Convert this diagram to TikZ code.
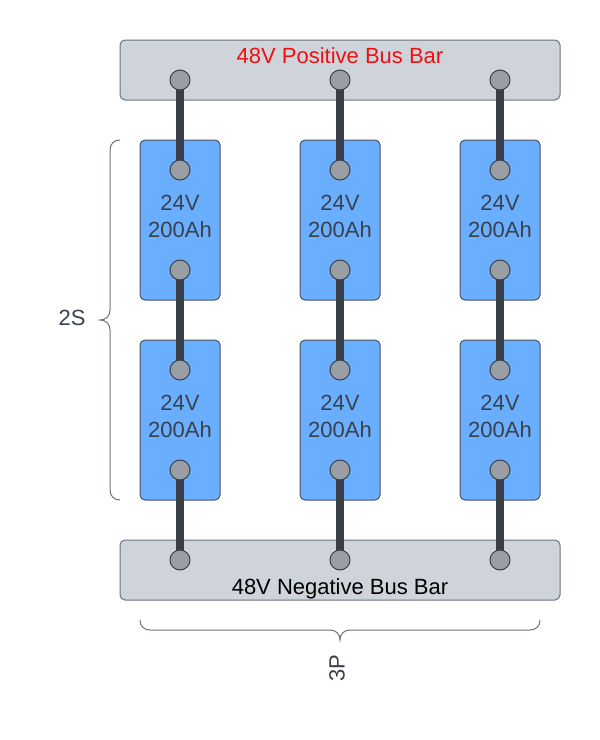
\documentclass[tikz,border=0pt]{standalone}
\usepackage{fontspec}
\setmainfont{Liberation Sans}
\pgfdeclarelayer{bodies}
\pgfdeclarelayer{wires}
\pgfsetlayers{bodies,wires,main}
\definecolor{busfill}{HTML}{CFD4DB}
\definecolor{busline}{HTML}{6B7280}
\definecolor{batfill}{HTML}{6AAFFF}
\definecolor{batline}{HTML}{4B5260}
\definecolor{wirec}{HTML}{3A3F48}
\definecolor{termfill}{HTML}{9A9EA5}
\definecolor{txtgray}{HTML}{3A414C}
\definecolor{posred}{HTML}{EE1111}
\begin{document}
\begin{tikzpicture}[x=1pt,y=-1pt,
  busbar/.style={draw=busline,fill=busfill,line width=1pt,rounded corners=5pt,
    minimum width=440pt,minimum height=60pt,inner sep=0pt,rectangle},
  battery/.style={draw=batline,fill=batfill,line width=1pt,rounded corners=5pt,
    minimum width=80pt,minimum height=160pt,inner sep=0pt,rectangle},
  terminal/.style={circle,draw=wirec,fill=termfill,line width=1pt,minimum size=20pt,inner sep=0pt},
  wire/.style={draw=wirec,line width=8pt},
  battxt/.style={font=\fontsize{22}{27}\selectfont,text=txtgray,align=center,inner sep=0pt},
  lbl/.style={font=\fontsize{22}{27}\selectfont,inner sep=0pt},
  bracel/.style={draw=busline,line width=1pt}
]
\path[use as bounding box] (0,0) rectangle (600,740);

\begin{pgfonlayer}{bodies}
\node[busbar] (pos) at (340,70) {};
\node[busbar] (neg) at (340,570) {};
\foreach \c/\x in {1/180,2/340,3/500}{
  \node[battery] (bt\c) at (\x,220) {};
  \node[battery] (bb\c) at (\x,420) {};
}
\end{pgfonlayer}

\node[lbl,text=posred,anchor=base] (poslbl) at (340,63) {48V Positive Bus Bar};
\node[lbl,anchor=base] (neglbl) at (340,594) {48V Negative Bus Bar};

\foreach \c/\x in {1/180,2/340,3/500}{
  \node[battxt] (tt\c) at (\x,216) {24V\\200Ah};
  \node[battxt] (tb\c) at (\x,416) {24V\\200Ah};
  \node[terminal] (P\c) at (\x,80) {};
  \node[terminal] (A\c) at (\x,170) {};
  \node[terminal] (B\c) at (\x,270) {};
  \node[terminal] (C\c) at (\x,370) {};
  \node[terminal] (D\c) at (\x,470) {};
  \node[terminal] (N\c) at (\x,560) {};
}

\begin{pgfonlayer}{wires}
\foreach \c in {1,2,3}{
  \draw[wire] (P\c.center) -- (A\c.center);
  \draw[wire] (B\c.center) -- (C\c.center);
  \draw[wire] (D\c.center) -- (N\c.center);
}
\end{pgfonlayer}

% left brace
\draw[bracel] (120,140) .. controls (114,140) and (110,144) .. (110,150)
  -- (110,310) .. controls (110,316) and (106,320) .. (100,320)
  .. controls (106,320) and (110,324) .. (110,330)
  -- (110,490) .. controls (110,496) and (114,500) .. (120,500);
\node[lbl,text=txtgray,anchor=base] (s2) at (72,325) {2S};

% bottom brace
\draw[bracel] (140,620) .. controls (140,626) and (144,630) .. (150,630)
  -- (330,630) .. controls (336,630) and (340,634) .. (340,640)
  .. controls (340,634) and (344,630) .. (350,630)
  -- (530,630) .. controls (536,630) and (540,626) .. (540,620);
\node[lbl,text=txtgray,rotate=90] (p3) at (337,668) {3P};
\end{tikzpicture}
\end{document}
